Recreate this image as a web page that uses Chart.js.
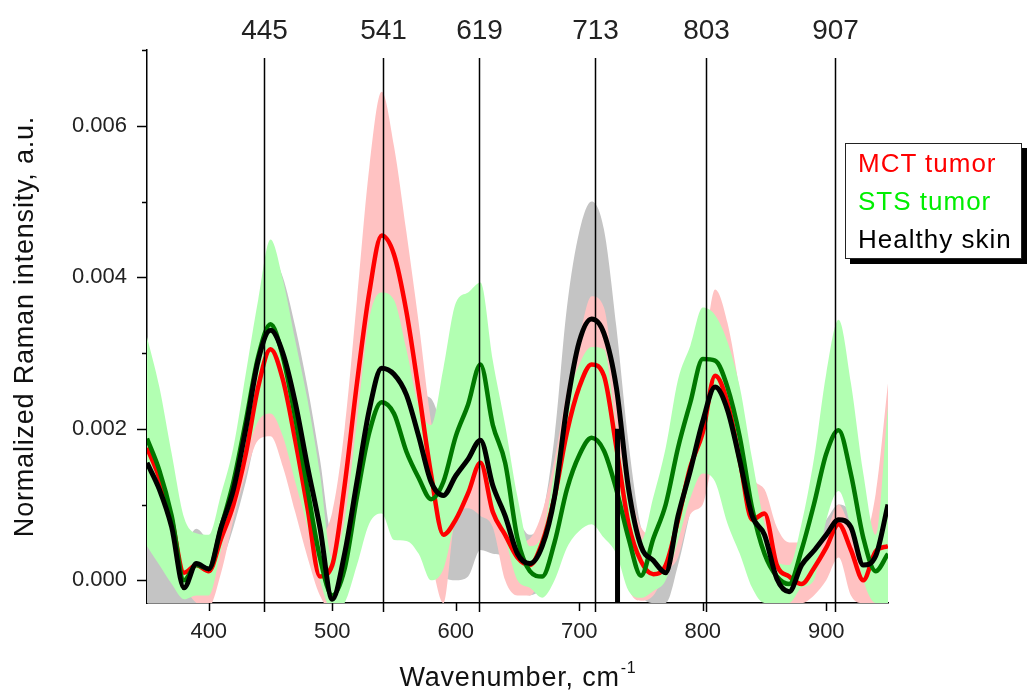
<!DOCTYPE html>
<html>
<head>
<meta charset="utf-8">
<title>Raman spectra</title>
<script src="https://cdn.jsdelivr.net/npm/chart.js@4.4.1/dist/chart.umd.min.js"></script>
<style>
    body { margin: 0; background: #fff; }
    #wrap { position: relative; width: 1034px; height: 693px; }
    #legend {
        position: absolute;
        left: 845px;
        top: 143px;
        width: 177px;
        border: 1px solid #222;
        background: #fff;
        box-shadow: 5px 5px 0 #000;
        font-family: "Liberation Sans", Arial, sans-serif;
        font-size: 26px;
        letter-spacing: 1px;
        line-height: 38px;
        padding-left: 12px;
        box-sizing: border-box;
        white-space: nowrap;
    }
</style>
</head>
<body>
<div id="wrap">
    <canvas id="spectra" width="1034" height="693"></canvas>
    <div id="legend">
        <div style="color:#ff0000">MCT tumor</div>
        <div style="color:#00ee00">STS tumor</div>
        <div style="color:#000000">Healthy skin</div>
    </div>
</div>
<script>
const FONT = '"Liberation Sans", Arial, sans-serif';

// Wavenumber grid (cm-1) shared by every curve
const wavenumbers = [
    350, 360, 370, 380, 390, 400, 410, 420, 430, 440,
    450, 460, 470, 480, 490, 500, 510, 520, 530, 540,
    550, 560, 570, 580, 590, 600, 610, 620, 630, 640,
    650, 660, 670, 680, 690, 700, 710, 720, 730, 740,
    750, 760, 770, 780, 790, 800, 810, 820, 830, 840,
    850, 860, 870, 880, 890, 900, 910, 920, 930, 940, 950
];

// Mean spectra
const mctMean = [
    0.00175, 0.00135, 0.00080, 0.00010, 0.00020, 0.00012, 0.00055, 0.00100, 0.00167, 0.00255,
    0.00305, 0.00265, 0.00185, 0.00095, 0.00005, 0.00020, 0.00125, 0.00260, 0.00380, 0.00455,
    0.00430, 0.00355, 0.00250, 0.00140, 0.00060, 0.00080, 0.00115, 0.00155, 0.00090, 0.00060,
    0.00030, 0.00020, 0.00050, 0.00110, 0.00195, 0.00255, 0.00285, 0.00270, 0.00176, 0.00074,
    0.00025, 0.00008, 0.00020, 0.00080, 0.00150, 0.00195, 0.00270, 0.00235, 0.00158, 0.00080,
    0.00088, 0.00020, 0.00005, -0.00005, 0.00016, 0.00043, 0.00074, 0.00040, 0.00000, 0.00038, 0.00045
];
const stsMean = [
    0.00187, 0.00145, 0.00085, 0.00000, 0.00020, 0.00015, 0.00070, 0.00130, 0.00210, 0.00295,
    0.00338, 0.00295, 0.00215, 0.00120, 0.00030, -0.00020, 0.00015, 0.00110, 0.00195, 0.00235,
    0.00220, 0.00170, 0.00135, 0.00107, 0.00130, 0.00190, 0.00232, 0.00285, 0.00205, 0.00155,
    0.00055, 0.00012, 0.00005, 0.00050, 0.00120, 0.00165, 0.00188, 0.00171, 0.00120, 0.00055,
    0.00006, 0.00055, 0.00100, 0.00175, 0.00235, 0.00292, 0.00290, 0.00255, 0.00189, 0.00095,
    0.00035, 0.00005, -0.00005, 0.00040, 0.00100, 0.00167, 0.00198, 0.00140, 0.00056, 0.00012, 0.00035
];
const healthyMean = [
    0.00155, 0.00120, 0.00070, -0.00010, 0.00022, 0.00015, 0.00070, 0.00120, 0.00200, 0.00290,
    0.00330, 0.00300, 0.00235, 0.00150, 0.00070, -0.00025, 0.00035, 0.00130, 0.00225, 0.00280,
    0.00272, 0.00245, 0.00190, 0.00130, 0.00112, 0.00138, 0.00160, 0.00185, 0.00125, 0.00085,
    0.00035, 0.00022, 0.00045, 0.00110, 0.00230, 0.00315, 0.00345, 0.00326, 0.00255, 0.00120,
    0.00045, 0.00026, 0.00010, 0.00085, 0.00145, 0.00210, 0.00255, 0.00225, 0.00158, 0.00085,
    0.00060, 0.00002, -0.00015, 0.00020, 0.00039, 0.00060, 0.00080, 0.00070, 0.00020, 0.00032, 0.00100
];

// Single-pixel dropout in the healthy skin spectrum
const healthySpikeX = [731, 731];
const healthySpikeY = [0.00200, -0.00060];

// Spread bands (upper / lower edges)
const mctUpper = [
    0.00200, 0.00160, 0.00100, 0.00050, 0.00055, 0.00050, 0.00100, 0.00150, 0.00230, 0.00325,
    0.00390, 0.00350, 0.00280, 0.00190, 0.00060, 0.00090, 0.00200, 0.00370, 0.00545, 0.00645,
    0.00573, 0.00460, 0.00340, 0.00210, 0.00130, 0.00150, 0.00190, 0.00230, 0.00130, 0.00080,
    0.00050, 0.00055, 0.00090, 0.00160, 0.00250, 0.00320, 0.00375, 0.00360, 0.00240, 0.00130,
    0.00070, 0.00060, 0.00080, 0.00150, 0.00230, 0.00290, 0.00384, 0.00340, 0.00250, 0.00140,
    0.00120, 0.00070, 0.00050, 0.00050, 0.00056, 0.00065, 0.00100, 0.00069, 0.00056, 0.00114, 0.00260
];
const mctLower = [
    0.00060, 0.00040, 0.00010, -0.00010, -0.00030, -0.00035, 0.00010, 0.00080, 0.00140, 0.00185,
    0.00190, 0.00150, 0.00090, 0.00030, -0.00020, -0.00040, 0.00030, 0.00120, 0.00210, 0.00260,
    0.00250, 0.00200, 0.00120, 0.00030, -0.00030, 0.00085, 0.00095, 0.00085, 0.00070, 0.00000,
    -0.00020, -0.00020, 0.00010, 0.00060, 0.00130, 0.00180, 0.00200, 0.00180, 0.00100, -0.00010,
    -0.00027, -0.00020, 0.00010, 0.00030, 0.00087, 0.00100, 0.00160, 0.00125, 0.00076, 0.00000,
    -0.00020, -0.00030, -0.00030, -0.00030, -0.00020, 0.00000, 0.00030, -0.00020, -0.00030, -0.00030, -0.00030
];
const stsUpper = [
    0.00321, 0.00255, 0.00167, 0.00083, 0.00062, 0.00060, 0.00114, 0.00176, 0.00273, 0.00370,
    0.00450, 0.00397, 0.00317, 0.00238, 0.00141, 0.00030, 0.00080, 0.00210, 0.00345, 0.00380,
    0.00370, 0.00305, 0.00230, 0.00205, 0.00280, 0.00366, 0.00380, 0.00393, 0.00290, 0.00205,
    0.00110, 0.00045, 0.00060, 0.00145, 0.00235, 0.00285, 0.00308, 0.00305, 0.00200, 0.00105,
    0.00052, 0.00110, 0.00175, 0.00265, 0.00310, 0.00360, 0.00350, 0.00315, 0.00255, 0.00160,
    0.00075, 0.00025, 0.00020, 0.00075, 0.00160, 0.00273, 0.00344, 0.00260, 0.00141, 0.00060, 0.00230
];
const stsLower = [
    0.00045, 0.00020, -0.00005, -0.00025, -0.00020, -0.00020, 0.00040, 0.00110, 0.00165, 0.00210,
    0.00220, 0.00190, 0.00130, 0.00070, 0.00000, -0.00040, -0.00030, 0.00020, 0.00075, 0.00088,
    0.00053, 0.00052, 0.00035, 0.00000, 0.00015, 0.00080, 0.00110, 0.00150, 0.00100, 0.00055,
    0.00000, -0.00010, -0.00023, 0.00000, 0.00043, 0.00065, 0.00074, 0.00056, 0.00035, -0.00014,
    -0.00023, -0.00014, 0.00000, 0.00052, 0.00109, 0.00141, 0.00130, 0.00075, 0.00035, -0.00010,
    -0.00030, -0.00030, -0.00030, -0.00010, 0.00000, 0.00079, 0.00118, 0.00070, 0.00000, -0.00030, -0.00030
];
const healthyUpper = [
    0.00190, 0.00150, 0.00100, 0.00050, 0.00068, 0.00055, 0.00100, 0.00160, 0.00250, 0.00360,
    0.00430, 0.00400, 0.00335, 0.00255, 0.00160, 0.00060, 0.00120, 0.00230, 0.00320, 0.00360,
    0.00360, 0.00320, 0.00250, 0.00240, 0.00200, 0.00180, 0.00200, 0.00230, 0.00190, 0.00140,
    0.00085, 0.00060, 0.00085, 0.00190, 0.00360, 0.00460, 0.00500, 0.00463, 0.00335, 0.00180,
    0.00070, 0.00040, 0.00030, 0.00130, 0.00200, 0.00270, 0.00320, 0.00280, 0.00200, 0.00120,
    0.00090, 0.00030, 0.00010, 0.00040, 0.00060, 0.00080, 0.00100, 0.00090, 0.00050, 0.00060, 0.00130
];
const healthyLower = [
    -0.00030, -0.00030, -0.00030, -0.00035, -0.00030, -0.00030, 0.00020, 0.00070, 0.00130, 0.00200,
    0.00230, 0.00200, 0.00140, 0.00060, -0.00010, -0.00040, -0.00020, 0.00050, 0.00130, 0.00190,
    0.00190, 0.00150, 0.00090, 0.00030, 0.00005, 0.00000, 0.00005, 0.00040, 0.00035, 0.00030,
    -0.00010, -0.00020, -0.00010, 0.00020, 0.00100, 0.00160, 0.00190, 0.00180, 0.00120, 0.00020,
    -0.00020, -0.00030, -0.00030, 0.00020, 0.00090, 0.00150, 0.00190, 0.00160, 0.00100, 0.00030,
    0.00010, -0.00030, -0.00040, -0.00010, 0.00010, 0.00030, 0.00040, 0.00020, -0.00010, 0.00000, 0.00060
];

// Assigned band positions marked above the plot
const peakPositions = [445, 541, 619, 713, 803, 907];

// Axis ranges and ticks
const xRange = [350, 950];
const yRange = [-0.0003, 0.007];
const xTicks = [400, 500, 600, 700, 800, 900];
const yTicks = [0, 0.001, 0.002, 0.003, 0.004, 0.005, 0.006, 0.007];

const toPoints = (ys) => wavenumbers.map((x, i) => ({ x: x, y: ys[i] }));

function band(values, color, order, fill) {
    return {
        data: toPoints(values),
        borderWidth: 0,
        pointRadius: 0,
        backgroundColor: color,
        fill: fill,
        order: order,
        cubicInterpolationMode: 'monotone'
    };
}

function curve(points, color, width, order) {
    return {
        data: points,
        borderColor: color,
        borderWidth: width,
        pointRadius: 0,
        fill: false,
        order: order,
        cubicInterpolationMode: 'monotone'
    };
}

// Ticks, peak markers and axis titles are drawn by hand
const decorations = {
    id: 'decorations',
    afterDraw(chart) {
        const ctx = chart.ctx;
        const area = chart.chartArea;
        const xs = chart.scales.x;
        const ys = chart.scales.y;
        ctx.save();
        ctx.strokeStyle = '#000';
        ctx.lineWidth = 1.5;

        // y ticks: long on even values, short in between
        yTicks.forEach((v, i) => {
            const y = Math.round(ys.getPixelForValue(v)) + 0.5;
            const len = i % 2 === 0 ? 10 : 5;
            ctx.beginPath();
            ctx.moveTo(area.left - len, y);
            ctx.lineTo(area.left, y);
            ctx.stroke();
        });

        // x ticks
        xTicks.forEach((v) => {
            const x = Math.round(xs.getPixelForValue(v)) + 0.5;
            ctx.beginPath();
            ctx.moveTo(x, area.bottom);
            ctx.lineTo(x, area.bottom + 8);
            ctx.stroke();
        });

        // peak markers
        ctx.fillStyle = '#222';
        ctx.font = '28px ' + FONT;
        ctx.textAlign = 'center';
        ctx.textBaseline = 'alphabetic';
        peakPositions.forEach((p) => {
            const x = Math.round(xs.getPixelForValue(p)) + 0.5;
            ctx.beginPath();
            ctx.moveTo(x, area.bottom + 9);
            ctx.lineTo(x, 58);
            ctx.stroke();
            ctx.fillText(String(p), x, 39);
        });

        // y axis title
        ctx.fillStyle = '#111';
        ctx.font = '27px ' + FONT;
        ctx.letterSpacing = '0.8px';
        ctx.translate(26, (area.top + area.bottom) / 2);
        ctx.rotate(-Math.PI / 2);
        ctx.textBaseline = 'middle';
        ctx.fillText('Normalized Raman intensity, a.u.', 0, 0);
        ctx.setTransform(1, 0, 0, 1, 0, 0);

        // x axis title with superscript unit
        const main = 'Wavenumber, cm';
        const sup = '-1';
        ctx.font = '27px ' + FONT;
        const wMain = ctx.measureText(main).width;
        ctx.font = '16px ' + FONT;
        const wSup = ctx.measureText(sup).width;
        const x0 = (area.left + area.right) / 2 - (wMain + wSup) / 2;
        ctx.textAlign = 'left';
        ctx.textBaseline = 'alphabetic';
        ctx.font = '27px ' + FONT;
        ctx.fillText(main, x0, 686);
        ctx.font = '16px ' + FONT;
        ctx.fillText(sup, x0 + wMain + 1, 673);
        ctx.letterSpacing = '0px';
        ctx.restore();
    }
};

new Chart(document.getElementById('spectra'), {
    type: 'line',
    data: {
        datasets: [
            band(healthyUpper, '#c4c4c4', 6, '+1'),
            band(healthyLower, '#c4c4c4', 6, false),
            band(mctUpper, '#ffc2c2', 5, '+1'),
            band(mctLower, '#ffc2c2', 5, false),
            band(stsUpper, '#b2ffb2', 4, '+1'),
            band(stsLower, '#b2ffb2', 4, false),
            curve(toPoints(mctMean), '#ff0000', 4.5, 3),
            curve(toPoints(stsMean), '#007800', 4.5, 2),
            curve(toPoints(healthyMean), '#000000', 5, 1),
            curve(healthySpikeX.map((x, i) => ({ x: x, y: healthySpikeY[i] })), '#000000', 5, 1)
        ]
    },
    options: {
        responsive: false,
        animation: false,
        devicePixelRatio: 1,
        layout: { padding: { left: 0, right: 146, top: 50, bottom: 0 } },
        plugins: {
            legend: { display: false },
            tooltip: { enabled: false }
        },
        scales: {
            x: {
                type: 'linear',
                min: xRange[0],
                max: xRange[1],
                afterFit: (s) => { s.height = 90; },
                afterBuildTicks: (s) => { s.ticks = xTicks.map((v) => ({ value: v })); },
                ticks: {
                    color: '#222',
                    padding: 8,
                    maxRotation: 0,
                    autoSkip: false,
                    font: { size: 22, family: FONT },
                    callback: (v) => String(v)
                },
                grid: { drawOnChartArea: false, color: 'transparent', tickLength: 8 },
                border: { color: '#000', width: 1.5 }
            },
            y: {
                type: 'linear',
                min: yRange[0],
                max: yRange[1],
                afterFit: (s) => { s.width = 147; },
                afterBuildTicks: (s) => { s.ticks = yTicks.map((v) => ({ value: v })); },
                ticks: {
                    color: '#222',
                    padding: 10,
                    font: { size: 22, family: FONT },
                    callback: (v, i) => (i % 2 === 0 ? v.toFixed(3) : '')
                },
                grid: { drawOnChartArea: false, color: 'transparent', tickLength: 10 },
                border: { color: '#000', width: 1.5 }
            }
        }
    },
    plugins: [decorations]
});
</script>
</body>
</html>
